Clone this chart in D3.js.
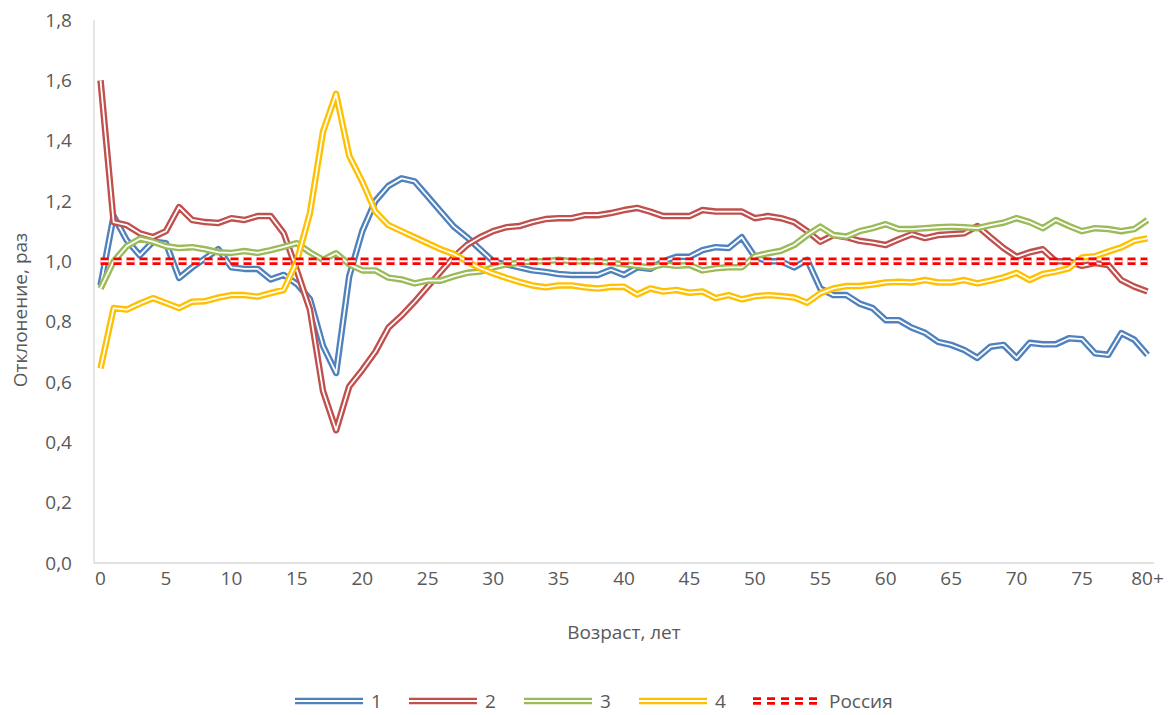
<!DOCTYPE html>
<html>
<head>
<meta charset="utf-8">
<script src="https://cdn.jsdelivr.net/npm/d3@7"></script>
<style>
  body { margin: 0; background: #fff; }
  svg text { font-family: "Open Sans", sans-serif; fill: #595959; }
</style>
</head>
<body>
<svg id="chart"></svg>
<script>
const FRAME_WIDTH = 1176;
const FRAME_HEIGHT = 715;
const MARGINS = {left: 94, right: 22, top: 20, bottom: 152};

// ages 0..79 plus "80+"
const AGES = d3.range(0, 80).map(String).concat(["80+"]);
const X_TICKS = ["0", "5", "10", "15", "20", "25", "30", "35", "40", "45", "50", "55", "60", "65", "70", "75", "80+"];
const Y_TICKS = [0, 0.2, 0.4, 0.6, 0.8, 1.0, 1.2, 1.4, 1.6, 1.8];

const SERIES_NAMES = ["1", "2", "3", "4"];
const SERIES_COLORS = ["#4F81BD", "#C0504D", "#9BBB59", "#FFC000"];

const S1 = [0.92, 1.15, 1.07, 1.02, 1.065, 1.06, 0.945, 0.98, 1.01, 1.04,
            0.98, 0.975, 0.975, 0.94, 0.955, 0.925, 0.875, 0.72, 0.63, 0.95,
            1.10, 1.20, 1.25, 1.275, 1.265, 1.215, 1.165, 1.115, 1.08, 1.04,
            1.00, 0.99, 0.98, 0.97, 0.965, 0.958, 0.955, 0.955, 0.955, 0.972,
            0.955, 0.98, 0.975, 1.00, 1.015, 1.015, 1.037, 1.047, 1.044, 1.08,
            1.015, 1.00, 1.00, 0.98, 1.005, 0.91, 0.888, 0.888, 0.86, 0.845,
            0.805, 0.805, 0.78, 0.763, 0.733, 0.723, 0.706, 0.68, 0.717, 0.723,
            0.68, 0.73, 0.725, 0.725, 0.745, 0.742, 0.695, 0.69, 0.762, 0.74,
            0.69];
const S2 = [1.60, 1.13, 1.12, 1.093, 1.08, 1.10, 1.18, 1.137, 1.13, 1.127,
            1.143, 1.137, 1.15, 1.15, 1.093, 0.97, 0.84, 0.57, 0.44, 0.585,
            0.64, 0.70, 0.78, 0.82, 0.866, 0.916, 0.966, 1.015, 1.054, 1.08,
            1.10, 1.113, 1.117, 1.13, 1.14, 1.143, 1.143, 1.153, 1.153, 1.16,
            1.17, 1.177, 1.165, 1.15, 1.15, 1.15, 1.17, 1.165, 1.165, 1.165,
            1.143, 1.15, 1.143, 1.13, 1.10, 1.065, 1.087, 1.08, 1.068, 1.062,
            1.054, 1.073, 1.09, 1.077, 1.087, 1.09, 1.093, 1.117, 1.08, 1.044,
            1.015, 1.03, 1.04, 1.00, 1.00, 0.985, 0.994, 0.988, 0.938, 0.916,
            0.90];
const S3 = [0.91, 1.00, 1.05, 1.075, 1.065, 1.05, 1.044, 1.047, 1.04, 1.03,
            1.028, 1.034, 1.028, 1.037, 1.048, 1.06, 1.03, 1.005, 1.027, 0.99,
            0.97, 0.97, 0.946, 0.94, 0.927, 0.936, 0.936, 0.95, 0.962, 0.966,
            0.98, 0.99, 0.995, 1.00, 1.00, 1.005, 1.00, 1.00, 1.00, 0.995,
            0.99, 0.985, 0.98, 0.99, 0.985, 0.988, 0.97, 0.977, 0.98, 0.98,
            1.017, 1.027, 1.035, 1.054, 1.087, 1.115, 1.087, 1.082, 1.10, 1.11,
            1.123, 1.107, 1.107, 1.11, 1.113, 1.115, 1.113, 1.11, 1.12, 1.128,
            1.143, 1.13, 1.11, 1.137, 1.117, 1.10, 1.11, 1.107, 1.10, 1.107,
            1.137];
const S4 = [0.645, 0.845, 0.84, 0.86, 0.878, 0.862, 0.845, 0.866, 0.868, 0.88,
            0.888, 0.888, 0.883, 0.895, 0.905, 1.00, 1.16, 1.43, 1.555, 1.35,
            1.264, 1.165, 1.12, 1.10, 1.08, 1.06, 1.04, 1.024, 1.00, 0.977,
            0.96, 0.945, 0.932, 0.92, 0.914, 0.92, 0.92, 0.914, 0.91, 0.915,
            0.916, 0.89, 0.91, 0.90, 0.905, 0.896, 0.90, 0.878, 0.888, 0.874,
            0.884, 0.888, 0.885, 0.88, 0.863, 0.894, 0.91, 0.918, 0.918, 0.923,
            0.93, 0.932, 0.93, 0.938, 0.93, 0.93, 0.938, 0.927, 0.936, 0.947,
            0.962, 0.938, 0.958, 0.966, 0.977, 1.013, 1.017, 1.032, 1.046, 1.068,
            1.076];
const RUSSIA = 1.0;

const VIS_WIDTH = FRAME_WIDTH - MARGINS.left - MARGINS.right;
const VIS_HEIGHT = FRAME_HEIGHT - MARGINS.top - MARGINS.bottom;

const FRAME = d3.select("#chart")
                .attr("width", FRAME_WIDTH)
                .attr("height", FRAME_HEIGHT);

const X_SCALE = d3.scalePoint()
                  .domain(AGES)
                  .range([MARGINS.left, MARGINS.left + VIS_WIDTH])
                  .padding(0.5);

const Y_SCALE = d3.scaleLinear()
                  .domain([0, 1.8])
                  .range([MARGINS.top + VIS_HEIGHT, MARGINS.top]);

const fmt = (v) => d3.format(".1f")(v).replace(".", ",");

// axis lines
FRAME.append("line")
     .attr("x1", MARGINS.left).attr("x2", MARGINS.left + VIS_WIDTH)
     .attr("y1", Y_SCALE(0)).attr("y2", Y_SCALE(0))
     .attr("stroke", "#D9D9D9").attr("stroke-width", 1.3);
FRAME.append("line")
     .attr("x1", MARGINS.left).attr("x2", MARGINS.left)
     .attr("y1", Y_SCALE(0)).attr("y2", Y_SCALE(1.8))
     .attr("stroke", "#D9D9D9").attr("stroke-width", 1.3);

// y tick labels
FRAME.selectAll(".ylab")
     .data(Y_TICKS)
     .enter()
     .append("text")
       .attr("class", "ylab")
       .attr("x", 72)
       .attr("y", (d) => Y_SCALE(d))
       .attr("dy", "0.35em")
       .attr("text-anchor", "end")
       .attr("font-size", 19)
       .text((d) => fmt(d));

// x tick labels
FRAME.selectAll(".xlab")
     .data(X_TICKS)
     .enter()
     .append("text")
       .attr("class", "xlab")
       .attr("x", (d) => X_SCALE(d))
       .attr("y", 578)
       .attr("dy", "0.35em")
       .attr("text-anchor", "middle")
       .attr("font-size", 19)
       .text((d) => d);

FRAME.append("text")
     .attr("x", 624).attr("y", 632).attr("dy", "0.35em")
     .attr("text-anchor", "middle").attr("font-size", 19)
     .text("Возраст, лет");

FRAME.append("text")
     .attr("transform", "translate(20," + 310 + ") rotate(-90)")
     .attr("dy", "0.35em")
     .attr("text-anchor", "middle").attr("font-size", 19)
     .text("Отклонение, раз");

// double lines: thick coloured stroke with a thin white stroke inside
const line = d3.line()
               .x((d, i) => X_SCALE(AGES[i]))
               .y((d) => Y_SCALE(d));

const ALL = [S1, S2, S3, S4];
ALL.forEach((vals, k) => {
  FRAME.append("path")
       .attr("d", line(vals))
       .attr("fill", "none")
       .attr("stroke", SERIES_COLORS[k])
       .attr("stroke-width", 6.5)
       .attr("stroke-linejoin", "round");
  FRAME.append("path")
       .attr("d", line(vals))
       .attr("fill", "none")
       .attr("stroke", "#fff")
       .attr("stroke-width", 1.8)
       .attr("stroke-linejoin", "round");
});

// Russia level
const rx1 = X_SCALE(AGES[0]);
const rx2 = X_SCALE(AGES[AGES.length - 1]);
FRAME.append("line")
     .attr("x1", rx1).attr("x2", rx2)
     .attr("y1", Y_SCALE(RUSSIA)).attr("y2", Y_SCALE(RUSSIA))
     .attr("stroke", "#FF0000").attr("stroke-width", 7.5)
     .attr("stroke-dasharray", "8,5");
FRAME.append("line")
     .attr("x1", rx1).attr("x2", rx2)
     .attr("y1", Y_SCALE(RUSSIA)).attr("y2", Y_SCALE(RUSSIA))
     .attr("stroke", "#fff").attr("stroke-width", 2)
     .attr("stroke-dasharray", "8,5");

// legend
const LEG_Y = 701;
const LEG_ITEMS = [
  {name: SERIES_NAMES[0], color: SERIES_COLORS[0], x: 295, dash: null},
  {name: SERIES_NAMES[1], color: SERIES_COLORS[1], x: 409, dash: null},
  {name: SERIES_NAMES[2], color: SERIES_COLORS[2], x: 524, dash: null},
  {name: SERIES_NAMES[3], color: SERIES_COLORS[3], x: 639, dash: null},
  {name: "Россия", color: "#FF0000", x: 753, dash: "8,6"}
];
LEG_ITEMS.forEach((it) => {
  FRAME.append("line")
       .attr("x1", it.x).attr("x2", it.x + 68)
       .attr("y1", LEG_Y).attr("y2", LEG_Y)
       .attr("stroke", it.color).attr("stroke-width", it.dash ? 7.5 : 6.5)
       .attr("stroke-dasharray", it.dash);
  FRAME.append("line")
       .attr("x1", it.x).attr("x2", it.x + 68)
       .attr("y1", LEG_Y).attr("y2", LEG_Y)
       .attr("stroke", "#fff").attr("stroke-width", it.dash ? 2 : 1.8)
       .attr("stroke-dasharray", it.dash);
  FRAME.append("text")
       .attr("x", it.x + 76).attr("y", LEG_Y).attr("dy", "0.35em")
       .attr("font-size", 19)
       .text(it.name);
});
</script>
</body>
</html>
